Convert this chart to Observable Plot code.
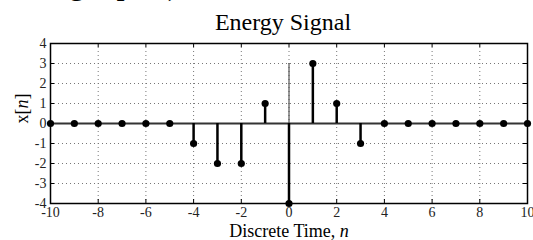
<!DOCTYPE html>
<html><head><meta charset="utf-8">
<script src="https://cdn.jsdelivr.net/npm/d3@7"></script>
<script src="https://cdn.jsdelivr.net/npm/@observablehq/plot@0.6"></script>
<style>body{margin:0;background:#fff;overflow:hidden}</style>
</head><body><div id="chart"></div>
<script>
const n = [-10,-9,-8,-7,-6,-5,-4,-3,-2,-1,0,1,2,3,4,5,6,7,8,9,10];
const xn = [0,0,0,0,0,0,-1,-2,-2,1,-4,3,1,-1,0,0,0,0,0,0,0];
const xTicks = [-10,-8,-6,-4,-2,0,2,4,6,8,10];
const yTicks = [-4,-3,-2,-1,0,1,2,3,4];
const xGrid = [-8,-6,-4,-2,0,2,4,6,8];
const yGrid = [-3,-2,-1,0,1,2,3];
const title = "Energy Signal";
const xLabel = "Discrete Time, n";
const yLabel = "x[n]";
const topText = "showing a plot),";
const axisLine = [{x: 0, from: -4, to: 3}];

const data = n.map((v, i) => ({n: v, x: xn[i]}));
const font = "Liberation Serif, Times New Roman, serif";

const chart = Plot.plot({
  width: 533, height: 240,
  marginLeft: 50, marginRight: 6, marginTop: 43, marginBottom: 37,
  x: {domain: [-10, 10], axis: null},
  y: {domain: [-4, 4], axis: null},
  style: {fontFamily: font, background: "white"},
  marks: [
    Plot.ruleX(xGrid, {x: d => d, stroke: "#777", strokeDasharray: "1,3", strokeWidth: 1}),
    Plot.ruleY(yGrid, {y: d => d, stroke: "#777", strokeDasharray: "1,3", strokeWidth: 1}),
    Plot.ruleX(xTicks, {x: d => d, y1: -4, y2: -3.8, stroke: "black", strokeWidth: 1}),
    Plot.ruleX(xTicks, {x: d => d, y1: 4, y2: 3.8, stroke: "black", strokeWidth: 1}),
    Plot.ruleY(yTicks, {y: d => d, x1: -10, x2: -9.83, stroke: "black", strokeWidth: 1}),
    Plot.ruleY(yTicks, {y: d => d, x1: 10, x2: 9.83, stroke: "black", strokeWidth: 1}),
    Plot.ruleY([0], {stroke: "#333", strokeWidth: 2}),
    Plot.ruleX(axisLine, {x: "x", y1: "from", y2: "to", stroke: "#333", strokeWidth: 1}),
    Plot.ruleX(data, {x: "n", y1: 0, y2: "x", stroke: "black", strokeWidth: 2.5}),
    Plot.dot(data, {x: "n", y: "x", r: 3.6, fill: "black", stroke: "none"}),
    Plot.frame({stroke: "black", strokeWidth: 1.5}),
    Plot.text(xTicks, {x: d => d, text: d => String(d), frameAnchor: "bottom", lineAnchor: "top", dy: 4, fontSize: 14, fill: "#222", fontFamily: font}),
    Plot.text(yTicks, {y: d => d, text: d => String(d), frameAnchor: "left", textAnchor: "end", dx: -4, fontSize: 14, fill: "#222", fontFamily: font}),
    Plot.text([title], {text: d => d, frameAnchor: "top", lineAnchor: "bottom", dy: -14, dx: -6, fontSize: 24, fill: "black", fontFamily: font}),
    Plot.text([xLabel], {text: d => d, frameAnchor: "bottom", lineAnchor: "bottom", dy: 33, fontSize: 18, fill: "black", fontFamily: font}),
    Plot.text([yLabel], {text: d => d, frameAnchor: "left", dx: -28, rotate: -90, fontSize: 18, fill: "black", fontFamily: font}),
    Plot.text([topText], {text: d => d, frameAnchor: "top-left", textAnchor: "start", lineAnchor: "bottom", dx: -77, dy: -50, fontSize: 33, fill: "black", fontFamily: font})
  ]
});

// italicize the variable n in the axis labels
chart.querySelectorAll("text").forEach(t => {
  const s = t.textContent;
  if (s === xLabel || s === yLabel) {
    const idx = s.lastIndexOf("n");
    const parts = [s.slice(0, idx), "n", s.slice(idx + 1)];
    t.textContent = "";
    parts.forEach((p, i) => {
      if (!p) return;
      const ts = document.createElementNS("http://www.w3.org/2000/svg", "tspan");
      ts.textContent = p;
      if (i === 1) ts.setAttribute("font-style", "italic");
      t.appendChild(ts);
    });
  }
});
document.getElementById("chart").appendChild(chart);
</script>
</body></html>
